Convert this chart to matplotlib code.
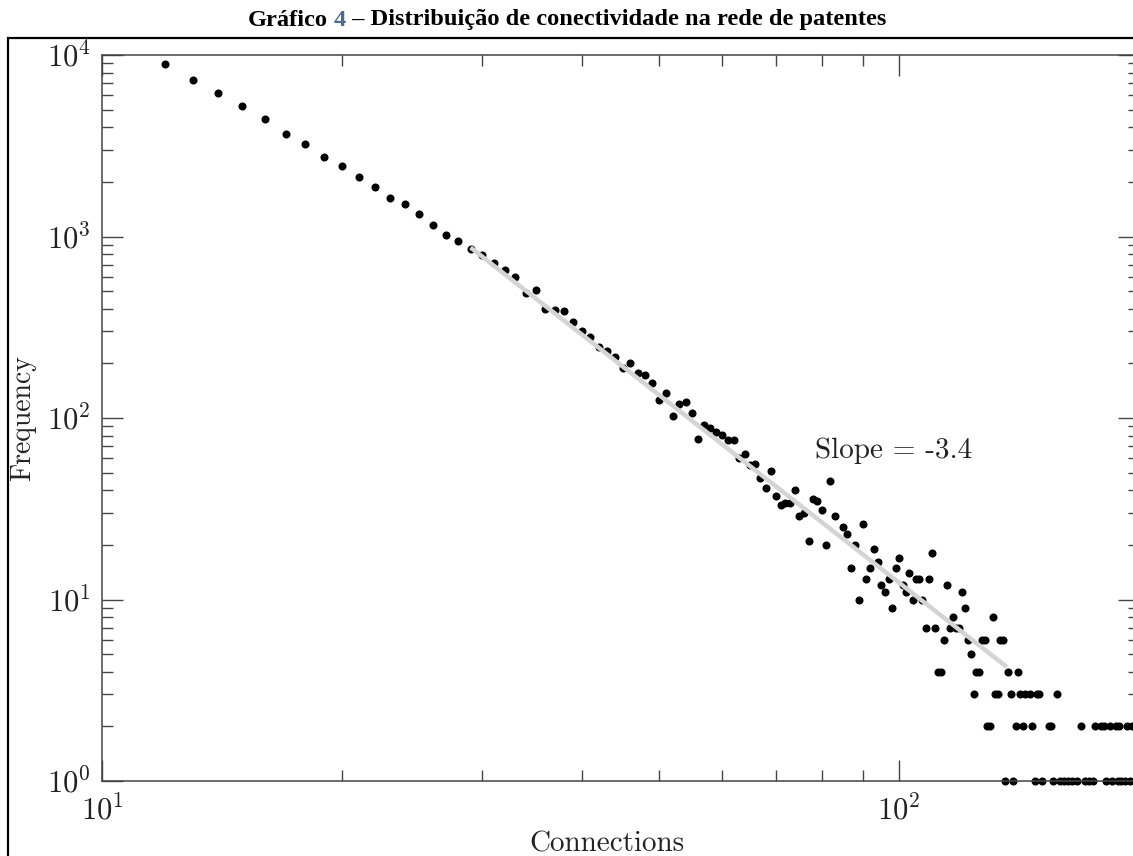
import matplotlib
matplotlib.use("Agg")
import matplotlib.pyplot as plt
from matplotlib.patches import Rectangle
from matplotlib.ticker import LogLocator, NullFormatter

# dados (conexões x frequência)
connections = [12, 13, 14, 15, 16, 17, 18, 19, 20, 21, 22, 23, 24, 25, 26, 27, 28, 29, 30,
               31, 32, 33, 34, 35, 36, 37, 38, 39, 40, 41, 42, 43, 44, 45, 46, 47, 48, 49, 50,
               51, 52, 53, 54, 55, 56, 57, 58, 59, 60, 61, 62, 63, 64, 65, 66, 67, 68, 69, 70,
               71, 72, 73, 74, 75, 76, 77, 78, 79, 80, 81, 82, 83, 85, 86, 87, 88, 89, 90,
               91, 92, 93, 94, 95, 96, 97, 98, 99, 100, 101, 102, 103, 104, 105, 106, 107, 108,
               109, 110, 111, 112, 113, 114, 115, 116, 117, 118, 119, 120, 121, 122, 123, 124,
               125, 126, 127, 128, 129, 130, 131, 132, 133, 134, 135, 136, 137, 138, 139, 140,
               141, 142, 143, 144, 146, 147, 148, 149, 150, 151, 154, 155, 156, 158, 159, 161,
               163, 165, 167, 169, 171, 173, 175, 176, 179, 181, 182, 184, 185, 187, 188, 189,
               190, 192, 193, 195, 196, 198, 199]
frequency = [8940, 7310, 6190, 5250, 4455, 3680, 3245, 2754, 2460, 2140, 1880, 1637, 1510, 1336,
             1163, 1018, 949, 853, 790, 718, 657, 601, 491, 510, 401, 396, 391, 340, 300, 281,
             245, 233, 218, 188, 200, 176, 172, 155, 126, 137, 102, 120, 123, 107, 77, 92, 88,
             84, 81, 76, 76, 60, 63, 55, 56, 47, 41, 51, 37, 33, 34, 34, 40, 29, 30, 21, 36,
             35, 31, 20, 45, 29, 25, 23, 15, 20, 10, 26, 13, 15, 19, 16, 12, 11, 13, 9, 15,
             17, 12, 11, 14, 10, 13, 13, 10, 7, 13, 18, 7, 4, 4, 6, 12, 7, 8, 7, 7, 11, 9, 6,
             5, 3, 4, 4, 6, 6, 2, 2, 8, 3, 3, 6, 6, 1, 4, 3, 1, 2, 4, 3, 2, 3, 3, 2, 1, 3, 3,
             1, 2, 2, 1, 3, 1, 1, 1, 1, 1, 2, 1, 1, 1, 2, 2, 2, 1, 2, 1, 2, 1, 2, 1, 1, 2, 1,
             2, 1, 2]

# reta de ajuste (inclinação -3.4)
fit_x = [29, 136.6]
fit_y = [870, 4.24]
slope_label = "Slope = -3.4"

title_parts = ["Gráfico", " 4", " – Distribuição de conectividade na rede de patentes"]
title_colors = ["black", "#4f6b8c", "black"]

plt.rcParams['mathtext.fontset'] = 'cm'
plt.rcParams['font.family'] = ['cmr10', 'DejaVu Sans']
plt.rcParams['axes.formatter.use_mathtext'] = True

W, H = 1133, 856
fig = plt.figure(figsize=(W / 100, H / 100), dpi=100)
ax = fig.add_axes([102 / W, 1 - 781 / H, 1037 / W, 726 / H])

ax.plot(connections, frequency, 'o', color='black', ms=5.8, mec='none', zorder=2, clip_on=False)
ax.plot(fit_x, fit_y, color='#d4d4d4', lw=3.2, solid_capstyle='butt', zorder=3)

ax.set_xscale('log')
ax.set_yscale('log')
ax.set_xlim(10, 200)
ax.set_ylim(1, 1e4)

for axis in (ax.xaxis, ax.yaxis):
    axis.set_major_locator(LogLocator(base=10))
    axis.set_minor_locator(LogLocator(base=10, subs=range(2, 10)))
    axis.set_minor_formatter(NullFormatter())

ax.tick_params(which='both', direction='in', top=True, right=True, color='#444444',
               labelsize=22, labelcolor='#222222')
ax.tick_params(axis='y', which='both', pad=8)
ax.tick_params(axis='x', which='both', pad=10)
ax.tick_params(which='major', length=15, width=1.0)
ax.tick_params(which='minor', length=8, width=1.0)
for sp in ax.spines.values():
    sp.set_color('#444444')
    sp.set_linewidth(1.1)

ax.text(78.5, 60, slope_label, fontsize=21, va='baseline', ha='left', color='#222222')

fig.text(23 / W, 1 - 418 / H, "Frequency", rotation=90, fontsize=20, ha='center', va='center',
         color='#222222')
fig.text(607 / W, 1 - 852 / H, "Connections", fontsize=21, ha='center', va='baseline',
         color='#222222')

# moldura externa
fig.add_artist(Rectangle((8 / W, -0.05), 1.2, (856 - 38) / H + 0.05, transform=fig.transFigure,
                         fill=False, ec='black', lw=1.6, clip_on=False))

# título em três partes (número em azul), medidas para ficarem lado a lado
title_kw = dict(fontsize=17.6, fontweight='bold', family='Liberation Serif', va='center')
r = fig.canvas.get_renderer()
widths = []
for i in range(len(title_parts)):
    probe = fig.text(0, 0, "".join(title_parts[:i + 1]), **title_kw)
    widths.append(probe.get_window_extent(r).width)
    probe.remove()
x0 = 567 - widths[-1] / 2
for part, col, w in zip(title_parts, title_colors, widths):
    fig.text((x0 + w) / W, 1 - 20 / H, part.strip() if col != "black" or part.startswith("G")
             else part, ha='right', color=col, **title_kw)

fig.savefig('out.png', dpi=100)
